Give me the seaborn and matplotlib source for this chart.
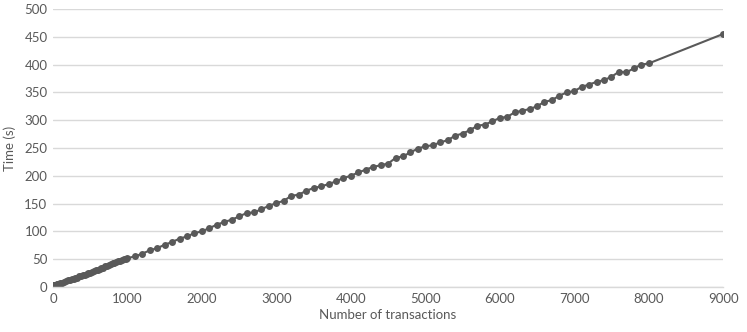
import matplotlib
matplotlib.use("Agg")
import matplotlib.pyplot as plt
import seaborn as sns
import pandas as pd

# Number of transactions (x) and time in seconds (y)
transactions = [0, 10, 20, 30, 40, 50, 60, 70, 80, 90, 100,
                125, 150, 175, 200, 225, 250, 275, 300, 325, 350, 375, 400, 425, 450, 475,
                500, 525, 550, 575, 600, 625, 650, 675, 700, 725, 750, 775, 800, 825, 850, 875,
                900, 925, 950, 975,
                1000, 1100, 1200, 1300, 1400, 1500, 1600, 1700, 1800, 1900,
                2000, 2100, 2200, 2300, 2400, 2500, 2600, 2700, 2800, 2900,
                3000, 3100, 3200, 3300, 3400, 3500, 3600, 3700, 3800, 3900,
                4000, 4100, 4200, 4300, 4400, 4500, 4600, 4700, 4800, 4900,
                5000, 5100, 5200, 5300, 5400, 5500, 5600, 5700, 5800, 5900,
                6000, 6100, 6200, 6300, 6400, 6500, 6600, 6700, 6800, 6900,
                7000, 7100, 7200, 7300, 7400, 7500, 7600, 7700, 7800, 7900,
                8000, 9000]
time_s = [3, 3, 4, 4, 4, 5, 5, 5, 6, 6, 7,
          8, 9, 10, 12, 12, 14, 15, 16, 17, 19, 20, 21, 22, 24, 25,
          26, 27, 29, 30, 31, 33, 34, 35, 37, 38, 39, 41, 43, 44, 45, 46,
          47, 48, 50, 51,
          52, 55, 60, 66, 70, 76, 81, 87, 91, 97,
          100, 106, 112, 117, 121, 127, 133, 134, 140, 146,
          151, 155, 164, 166, 173, 178, 181, 185, 190, 196,
          200, 206, 211, 216, 219, 222, 232, 235, 242, 249,
          253, 255, 260, 264, 272, 276, 282, 290, 292, 298,
          304, 306, 314, 317, 320, 325, 333, 336, 344, 350,
          352, 360, 364, 369, 372, 378, 387, 386, 393, 400,
          402, 455]

x_ticks = [0, 1000, 2000, 3000, 4000, 5000, 6000, 7000, 8000, 9000]
y_ticks = [0, 50, 100, 150, 200, 250, 300, 350, 400, 450, 500]

sns.set_theme(style="white")
plt.rcParams['font.family'] = ['Lato', 'DejaVu Sans']

df = pd.DataFrame({"Number of transactions": transactions, "Time (s)": time_s})

fig = plt.figure(figsize=(7.47, 3.32), dpi=100)
ax = fig.add_axes([0.071, 0.1355, 0.897, 0.8375])

grey = "#595959"
sns.lineplot(data=df, x="Number of transactions", y="Time (s)", ax=ax,
             color=grey, marker="o", markersize=5, markeredgewidth=0,
             linewidth=1.5, sort=False)

ax.set_xlim(0, 9000)
ax.set_ylim(0, 500)
ax.set_xticks(x_ticks)
ax.set_yticks(y_ticks)
ax.yaxis.grid(True, color="#d9d9d9", linewidth=1)
ax.xaxis.grid(False)
ax.set_axisbelow(True)
for s in ["top", "right", "left"]:
    ax.spines[s].set_visible(False)
ax.spines["bottom"].set_color("#d9d9d9")
ax.spines["bottom"].set_linewidth(1)
ax.tick_params(axis="both", length=0, labelsize=9.5, labelcolor=grey, pad=4)
ax.set_xlabel("Number of transactions", fontsize=9.5, color=grey, labelpad=3)
ax.set_ylabel("Time (s)", fontsize=9.5, color=grey, labelpad=6)

fig.savefig("out.png", dpi=100)
